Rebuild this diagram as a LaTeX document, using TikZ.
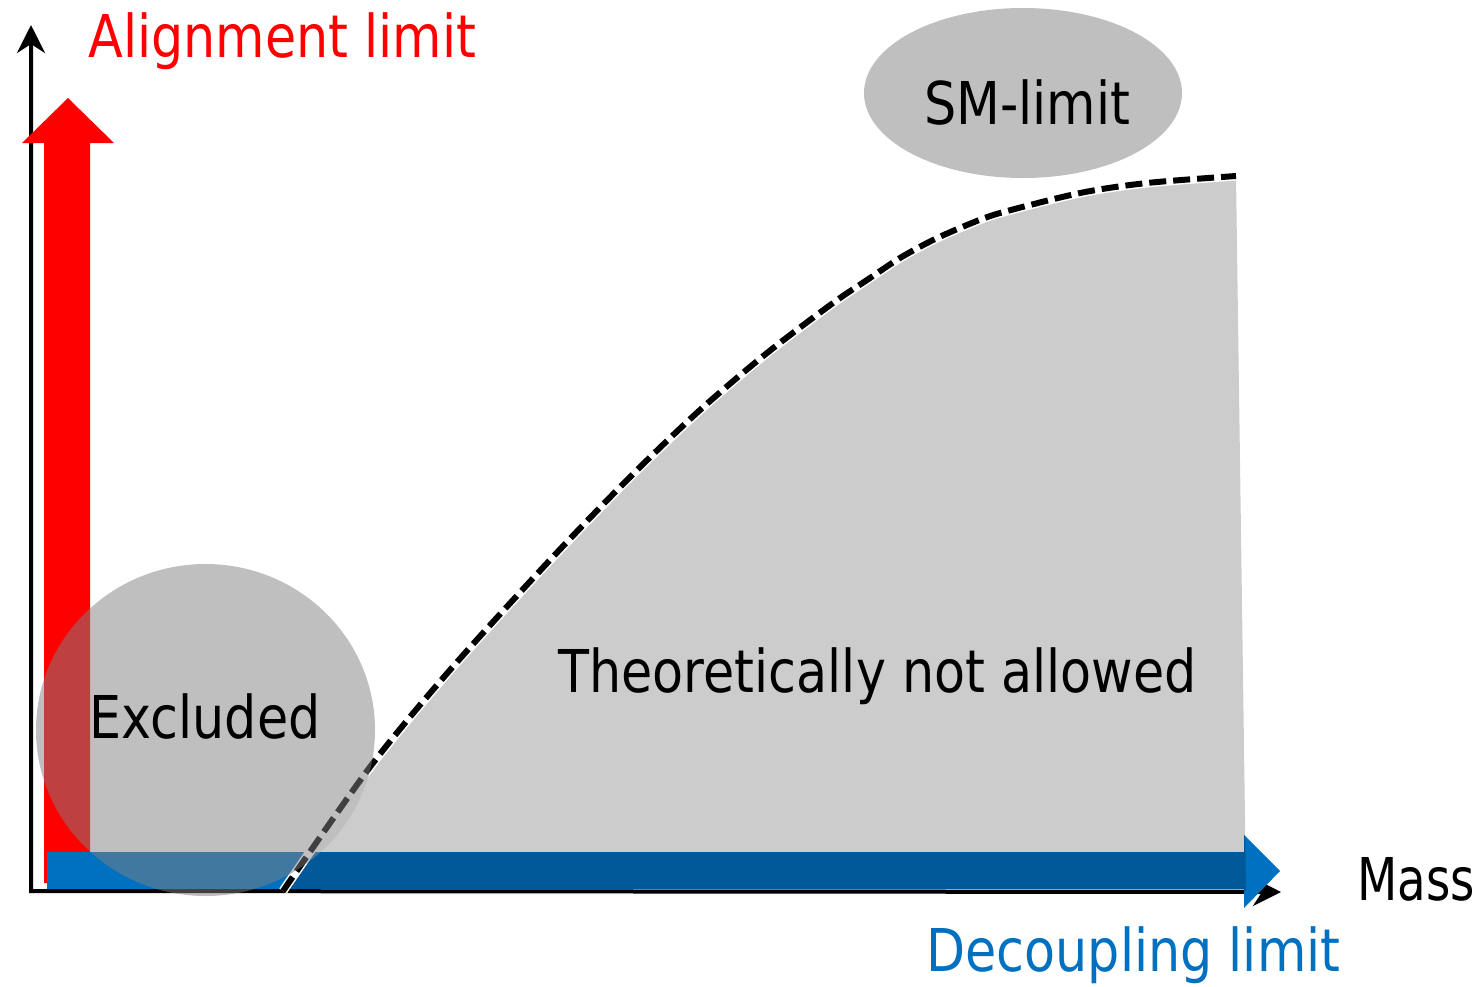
\documentclass[tikz,border=0pt]{standalone}
\usepackage{fontspec}
\setmainfont{DejaVu Sans}[FakeStretch=0.86]
\usetikzlibrary{arrows.meta}

\definecolor{alignred}{HTML}{FF0000}
\definecolor{decblue}{HTML}{0070C0}
\definecolor{smgray}{HTML}{BFBFBF}

\tikzset{
  axisline/.style={line width=4pt, line join=miter,
    {Stealth[length=28pt,width=28pt,inset=9pt]}-{Stealth[length=28pt,width=28pt,inset=9pt]}},
  label/.style={font=\fontsize{59}{70}\selectfont, anchor=base, inner sep=0pt},
  boundary/.style={line width=6pt, dash pattern=on 17pt off 7pt},
}

\begin{document}
\begin{tikzpicture}[x=1pt, y=-1pt]
\useasboundingbox (0,0) rectangle (1479,986);

% axes
\coordinate (origin) at (31,891);
\coordinate (ytop) at (31,25);
\coordinate (xend) at (1281,892);
\draw[axisline] (ytop) -- (origin) -- (xend);

% alignment arrow
\fill[alignred] (44,883) -- (44,143) -- (22,143) -- (68,98) -- (114,143)
  -- (90,143) -- (90,883) -- cycle;

% decoupling arrow
\fill[decblue] (47,852) -- (1244,852) -- (1244,835) -- (1280,871) -- (1244,908)
  -- (1244,889) -- (47,889) -- cycle;

% theoretically forbidden region, left open where the excluded disc sits
\begin{scope}
  \clip plot[smooth, tension=0.5] coordinates{(283,891) (370,767) (450,670)
    (550,560) (630,477) (700,410) (767,353) (833,303) (867,280) (900,258)
    (933,240) (967,225) (1000,213) (1080,193) (1147,183) (1236,176)}
    -- (1246,891) -- cycle;
  \fill[black, opacity=0.2, even odd rule] (0,0) rectangle (1479,986)
    (205.5,730) ellipse [x radius=169.5, y radius=166];
\end{scope}

% boundary of the region
\draw[white, line width=9pt] plot[smooth, tension=0.5] coordinates{(283,891)
  (370,767) (450,670) (550,560) (630,477) (700,410) (767,353) (833,303)
  (867,280) (900,258) (933,240) (967,225) (1000,213) (1080,193) (1147,183)
  (1236,176)};
\draw[boundary] plot[smooth, tension=0.5] coordinates{(283,891) (370,767)
  (450,670) (550,560) (630,477) (700,410) (767,353) (833,303) (867,280)
  (900,258) (933,240) (967,225) (1000,213) (1080,193) (1147,183) (1236,176)};

% excluded disc
\fill[gray, opacity=0.5] (205.5,730) ellipse [x radius=169.5, y radius=166];

% SM limit
\fill[smgray] (1023,93) ellipse [x radius=159, y radius=85];

% labels
\node[label, text=alignred] (align) at (282.5,57) {Alignment limit};
\node[label] (sm) at (1027,124) {SM-limit};
\node[label] (excl) at (205,738) {Excluded};
\node[label] (theo) at (877.5,692) {Theoretically not allowed};
\node[label, xscale=0.92] (mass) at (1416,900) {Mass};
\node[label, text=decblue] (decoup) at (1133.5,971) {Decoupling limit};
\end{tikzpicture}
\end{document}
